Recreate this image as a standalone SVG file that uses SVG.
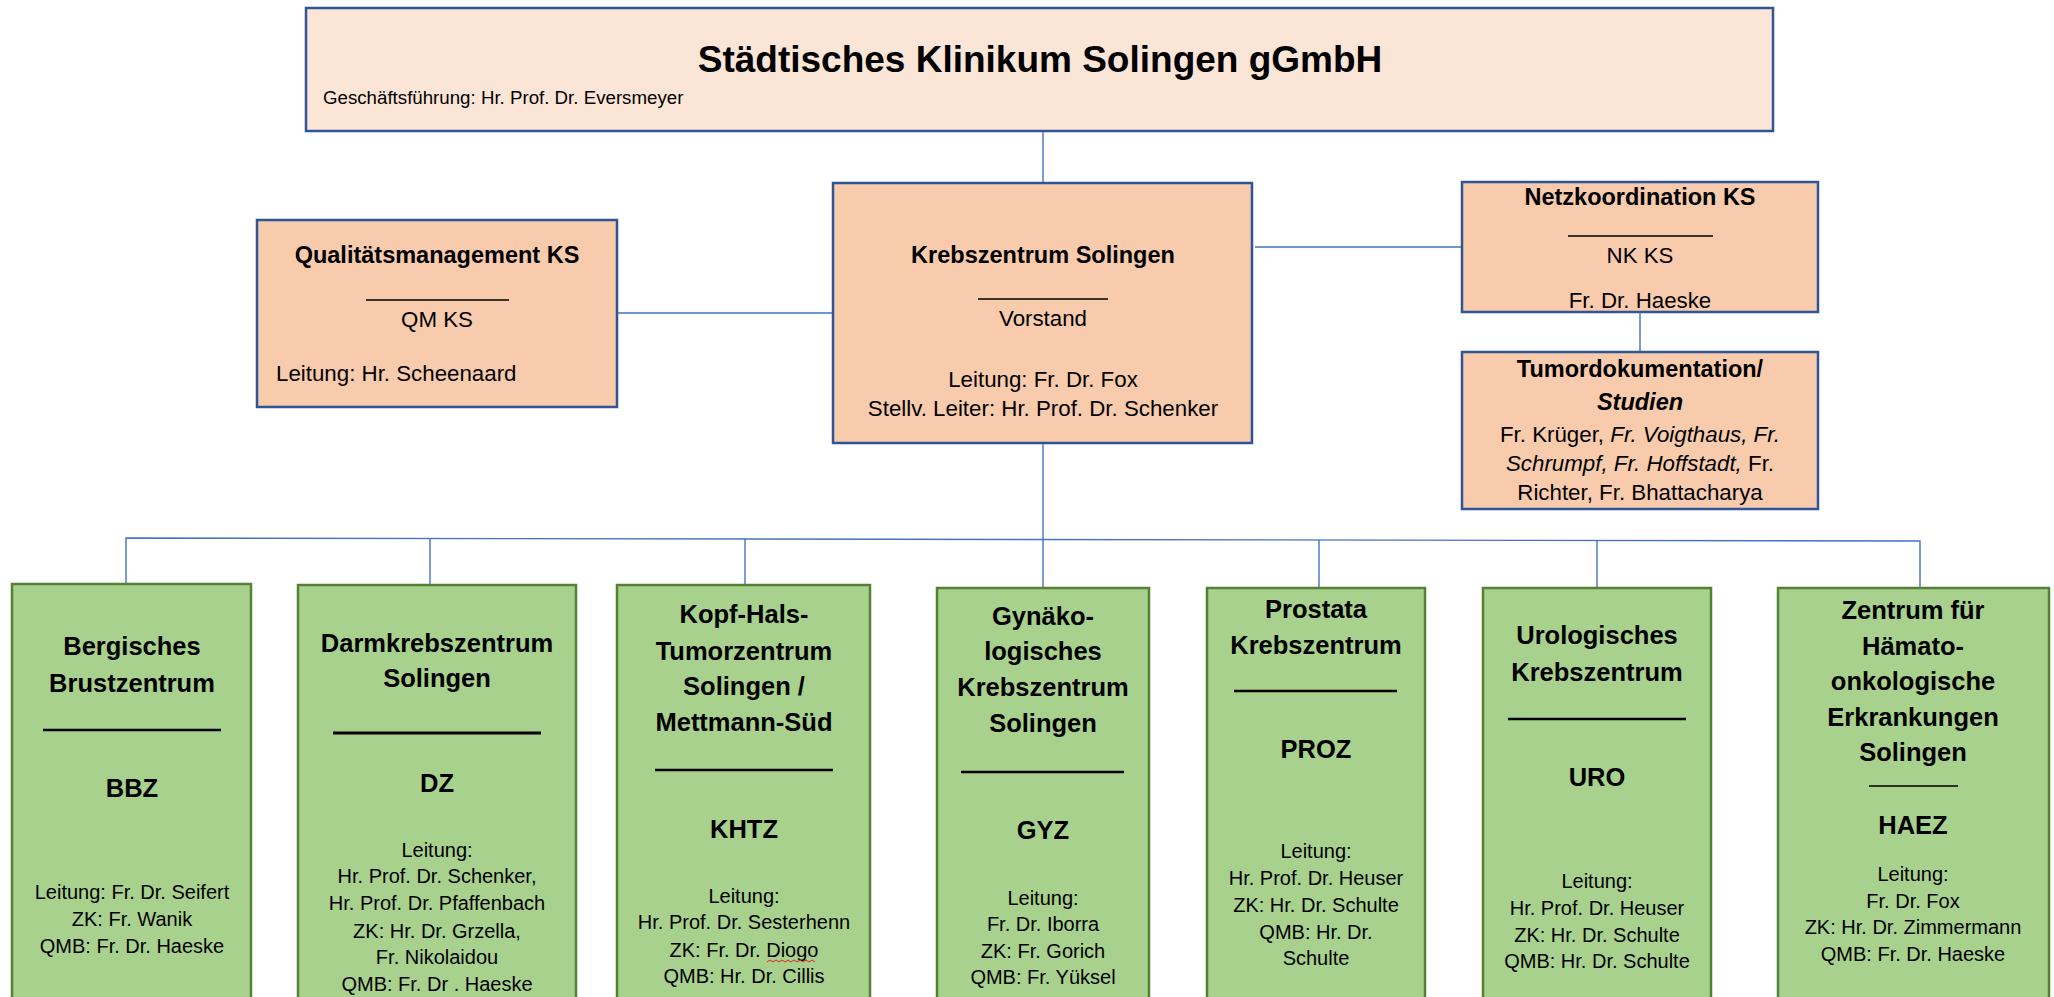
<svg xmlns="http://www.w3.org/2000/svg" width="2054" height="997" viewBox="0 0 2054 997">
<style>
text{font-family:"Liberation Sans",Arial,sans-serif;fill:#000;text-anchor:middle}
.top{fill:#FBE5D6;stroke:#2F5597;stroke-width:2.5}
.or{fill:#F8CBAD;stroke:#2F5597;stroke-width:2.5}
.gr{fill:#A9D18E;stroke:#548235;stroke-width:2.5}
.conn{fill:none;stroke:#4472C4;stroke-width:1.4}
.ul{stroke:#000;stroke-width:1.3}
.ulg{stroke:#000;stroke-width:2.5}
.oh{font-size:23.5px;font-weight:bold}
.ot{font-size:22.3px}
.gh{font-size:25.5px;font-weight:bold}
.gt{font-size:20px}
.it{font-style:italic}
</style>
<g id="connectors">
<line class="conn" x1="1043" y1="131" x2="1043" y2="183"/>
<line class="conn" x1="617" y1="313" x2="833" y2="313"/>
<line class="conn" x1="1255" y1="247" x2="1462" y2="247"/>
<line class="conn" x1="1640" y1="312" x2="1640" y2="352"/>
<line class="conn" x1="1043" y1="443" x2="1043" y2="588"/>
<polyline class="conn" points="126,584 126,538 1920,541 1920,588"/>
<line class="conn" x1="430" y1="538" x2="430" y2="585"/>
<line class="conn" x1="745" y1="539" x2="745" y2="585"/>
<line class="conn" x1="1319" y1="540" x2="1319" y2="588"/>
<line class="conn" x1="1597" y1="540" x2="1597" y2="588"/>
</g>
<g id="klinikum">
<rect class="top" x="306" y="8" width="1467" height="123"/>
<text x="1040" y="72" style="font-size:37px;font-weight:bold">Städtisches Klinikum Solingen gGmbH</text>
<text x="323" y="104" style="font-size:18.7px;text-anchor:start">Geschäftsführung: Hr. Prof. Dr. Eversmeyer</text>
</g>
<g id="qm">
<rect class="or" x="257" y="220" width="360" height="187"/>
<text class="oh" x="437" y="263">Qualitätsmanagement KS</text>
<line class="ul" x1="366" y1="300" x2="509" y2="300"/>
<text class="ot" x="437" y="327">QM KS</text>
<text class="ot" x="276" y="381" style="text-anchor:start">Leitung: Hr. Scheenaard</text>
</g>
<g id="krebszentrum">
<rect class="or" x="833" y="183" width="419" height="260"/>
<text class="oh" x="1043" y="263">Krebszentrum Solingen</text>
<line class="ul" x1="978" y1="299" x2="1108" y2="299"/>
<text class="ot" x="1043" y="326">Vorstand</text>
<text class="ot" x="1043" y="387">Leitung: Fr. Dr. Fox</text>
<text class="ot" x="1043" y="416">Stellv. Leiter: Hr. Prof. Dr. Schenker</text>
</g>
<g id="netzkoordination">
<rect class="or" x="1462" y="182" width="356" height="130"/>
<text class="oh" x="1640" y="205">Netzkoordination KS</text>
<line class="ul" x1="1568" y1="236" x2="1713" y2="236"/>
<text class="ot" x="1640" y="263">NK KS</text>
<text class="ot" x="1640" y="308">Fr. Dr. Haeske</text>
</g>
<g id="tumordoku">
<rect class="or" x="1462" y="352" width="356" height="157"/>
<text class="oh" x="1640" y="377">Tumordokumentation/</text>
<text class="oh it" x="1640" y="410">Studien</text>
<text class="ot" x="1640" y="442">Fr. Krüger, <tspan class="it">Fr. Voigthaus, Fr.</tspan></text>
<text class="ot" x="1640" y="471"><tspan class="it">Schrumpf, Fr. Hoffstadt,</tspan> Fr.</text>
<text class="ot" x="1640" y="500">Richter, Fr. Bhattacharya</text>
</g>
<g id="bbz">
<rect class="gr" x="12" y="584" width="239" height="430"/>
<text class="gh" x="132" y="655">Bergisches</text>
<text class="gh" x="132" y="692">Brustzentrum</text>
<line class="ulg" x1="43" y1="730" x2="221" y2="730"/>
<text class="gh" x="132" y="797">BBZ</text>
<text class="gt" x="132" y="899">Leitung: Fr. Dr. Seifert</text>
<text class="gt" x="132" y="926">ZK: Fr. Wanik</text>
<text class="gt" x="132" y="953">QMB: Fr. Dr. Haeske</text>
</g>
<g id="dz">
<rect class="gr" x="298" y="585" width="278" height="430"/>
<text class="gh" x="437" y="652">Darmkrebszentrum</text>
<text class="gh" x="437" y="687">Solingen</text>
<line class="ulg" x1="333" y1="733" x2="541" y2="733" style="stroke-width:3"/>
<text class="gh" x="437" y="792">DZ</text>
<text class="gt" x="437" y="857">Leitung:</text>
<text class="gt" x="437" y="883">Hr. Prof. Dr. Schenker,</text>
<text class="gt" x="437" y="910">Hr. Prof. Dr. Pfaffenbach</text>
<text class="gt" x="437" y="938">ZK: Hr. Dr. Grzella,</text>
<text class="gt" x="437" y="964">Fr. Nikolaidou</text>
<text class="gt" x="437" y="991">QMB: Fr. Dr . Haeske</text>
</g>
<g id="khtz">
<rect class="gr" x="617" y="585" width="253" height="430"/>
<text class="gh" x="744" y="623">Kopf-Hals-</text>
<text class="gh" x="744" y="660">Tumorzentrum</text>
<text class="gh" x="744" y="695">Solingen /</text>
<text class="gh" x="744" y="731">Mettmann-Süd</text>
<line class="ulg" x1="655" y1="770" x2="833" y2="770"/>
<text class="gh" x="744" y="838">KHTZ</text>
<text class="gt" x="744" y="903">Leitung:</text>
<text class="gt" x="744" y="929">Hr. Prof. Dr. Sesterhenn</text>
<text class="gt" x="744" y="957">ZK: Fr. Dr. Diogo</text>
<path d="M767,962 l3,-2 l3,2 l3,-2 l3,2 l3,-2 l3,2 l3,-2 l3,2 l3,-2 l3,2 l3,-2 l3,2 l3,-2 l3,2 l3,-2 l3,2" fill="none" stroke="#E02020" stroke-width="1"/>
<text class="gt" x="744" y="983">QMB: Hr. Dr. Cillis</text>
</g>
<g id="gyz">
<rect class="gr" x="937" y="588" width="212" height="430"/>
<text class="gh" x="1043" y="625">Gynäko-</text>
<text class="gh" x="1043" y="660">logisches</text>
<text class="gh" x="1043" y="696">Krebszentrum</text>
<text class="gh" x="1043" y="732">Solingen</text>
<line class="ulg" x1="961" y1="772" x2="1124" y2="772"/>
<text class="gh" x="1043" y="839">GYZ</text>
<text class="gt" x="1043" y="905">Leitung:</text>
<text class="gt" x="1043" y="931">Fr. Dr. Iborra</text>
<text class="gt" x="1043" y="958">ZK: Fr. Gorich</text>
<text class="gt" x="1043" y="984">QMB: Fr. Yüksel</text>
</g>
<g id="proz">
<rect class="gr" x="1207" y="588" width="218" height="430"/>
<text class="gh" x="1316" y="618">Prostata</text>
<text class="gh" x="1316" y="654">Krebszentrum</text>
<line class="ulg" x1="1234" y1="691" x2="1397" y2="691"/>
<text class="gh" x="1316" y="758">PROZ</text>
<text class="gt" x="1316" y="858">Leitung:</text>
<text class="gt" x="1316" y="885">Hr. Prof. Dr. Heuser</text>
<text class="gt" x="1316" y="912">ZK: Hr. Dr. Schulte</text>
<text class="gt" x="1316" y="939">QMB: Hr. Dr.</text>
<text class="gt" x="1316" y="965">Schulte</text>
</g>
<g id="uro">
<rect class="gr" x="1483" y="588" width="228" height="430"/>
<text class="gh" x="1597" y="644">Urologisches</text>
<text class="gh" x="1597" y="681">Krebszentrum</text>
<line class="ulg" x1="1508" y1="719" x2="1686" y2="719"/>
<text class="gh" x="1597" y="786">URO</text>
<text class="gt" x="1597" y="888">Leitung:</text>
<text class="gt" x="1597" y="915">Hr. Prof. Dr. Heuser</text>
<text class="gt" x="1597" y="942">ZK: Hr. Dr. Schulte</text>
<text class="gt" x="1597" y="968">QMB: Hr. Dr. Schulte</text>
</g>
<g id="haez">
<rect class="gr" x="1778" y="588" width="271" height="430"/>
<text class="gh" x="1913" y="619">Zentrum für</text>
<text class="gh" x="1913" y="655">Hämato-</text>
<text class="gh" x="1913" y="690">onkologische</text>
<text class="gh" x="1913" y="726">Erkrankungen</text>
<text class="gh" x="1913" y="761">Solingen</text>
<line class="ul" x1="1869" y1="786" x2="1958" y2="786"/>
<text class="gh" x="1913" y="834">HAEZ</text>
<text class="gt" x="1913" y="881">Leitung:</text>
<text class="gt" x="1913" y="908">Fr. Dr. Fox</text>
<text class="gt" x="1913" y="934">ZK: Hr. Dr. Zimmermann</text>
<text class="gt" x="1913" y="961">QMB: Fr. Dr. Haeske</text>
</g>
</svg>
